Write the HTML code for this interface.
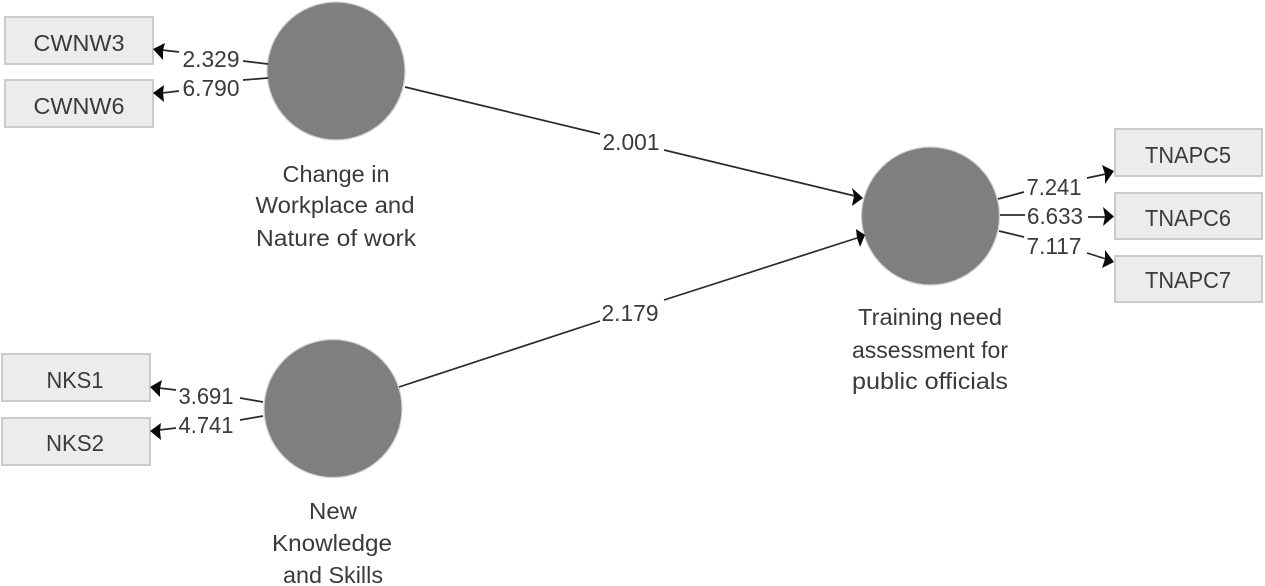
<!DOCTYPE html>
<html><head><meta charset="utf-8"><style>
html,body{margin:0;padding:0;background:#fff;width:1265px;height:586px;overflow:hidden}
svg{display:block;filter:blur(0.35px)}
text{font-family:"Liberation Sans",sans-serif;font-size:23px;fill:#3a3a3a;text-anchor:middle}
.b{fill:#ececec;stroke:#cbcbcb;stroke-width:2}
.c{fill:#7f7f7f;stroke:#d2d2d2;stroke-width:1.2}
.l{stroke:#2a2a2a;stroke-width:1.7;fill:none}
.a{fill:#0a0a0a}
</style></head><body>
<svg width="1265" height="586" viewBox="0 0 1265 586" xmlns="http://www.w3.org/2000/svg">
<rect class="b" x="5" y="17" width="148" height="47"/>
<rect class="b" x="5" y="80" width="148" height="47"/>
<rect class="b" x="2" y="354" width="148" height="47"/>
<rect class="b" x="2" y="418" width="148" height="47"/>
<rect class="b" x="1115" y="129" width="147" height="47"/>
<rect class="b" x="1115" y="193" width="147" height="46"/>
<rect class="b" x="1115" y="256" width="147" height="46"/>

<circle class="c" cx="336" cy="71" r="69"/>
<circle class="c" cx="333" cy="408.5" r="69"/>
<circle class="c" cx="930.5" cy="216" r="69"/>

<!-- structural paths -->
<line class="l" x1="405" y1="87" x2="600" y2="134"/>
<line class="l" x1="664" y1="150" x2="855" y2="196"/>
<polygon class="a" points="863,198 852,206 854,196 852,188"/>
<line class="l" x1="399" y1="387" x2="600" y2="321"/>
<line class="l" x1="664" y1="300" x2="857" y2="238"/>
<polygon class="a" points="865,235 860,247 857,238 856,229"/>

<!-- CWNW -->
<line class="l" x1="243" y1="61" x2="268" y2="64"/>
<line class="l" x1="243" y1="80" x2="268" y2="78"/>
<line class="l" x1="162" y1="50" x2="179" y2="52"/>
<polygon class="a" points="153,49 165,43 163,50 163,60"/>
<line class="l" x1="162" y1="93" x2="179" y2="91"/>
<polygon class="a" points="153,93 164,85 163,93 164,102"/>

<!-- NKS -->
<line class="l" x1="240" y1="398" x2="263" y2="402"/>
<line class="l" x1="240" y1="420" x2="263" y2="416"/>
<line class="l" x1="159" y1="388" x2="176" y2="390"/>
<polygon class="a" points="150,387 162,380 160,388 160,397"/>
<line class="l" x1="159" y1="430" x2="176" y2="428"/>
<polygon class="a" points="150,431 161,423 160,431 161,440"/>

<!-- TNAPC -->
<line class="l" x1="998" y1="199" x2="1024" y2="192"/>
<line class="l" x1="1087" y1="178" x2="1106" y2="174"/>
<polygon class="a" points="1114,171 1105,184 1105,174 1102,165"/>
<line class="l" x1="1000" y1="215" x2="1025" y2="215"/>
<line class="l" x1="1088" y1="217" x2="1106" y2="217"/>
<polygon class="a" points="1114,216.5 1103,226 1105,216.5 1103,207"/>
<line class="l" x1="999" y1="231" x2="1024" y2="237"/>
<line class="l" x1="1087" y1="253" x2="1106" y2="259"/>
<polygon class="a" points="1114,262 1102,268 1105,259 1105,250"/>

<!-- indicator labels -->
<text x="79" y="51" textLength="91" lengthAdjust="spacingAndGlyphs">CWNW3</text>
<text x="79" y="114" textLength="91" lengthAdjust="spacingAndGlyphs">CWNW6</text>
<text x="75" y="388" textLength="57" lengthAdjust="spacingAndGlyphs">NKS1</text>
<text x="75" y="451" textLength="58" lengthAdjust="spacingAndGlyphs">NKS2</text>
<text x="1188" y="163" textLength="86" lengthAdjust="spacingAndGlyphs">TNAPC5</text>
<text x="1188" y="226" textLength="86" lengthAdjust="spacingAndGlyphs">TNAPC6</text>
<text x="1188" y="288" textLength="86" lengthAdjust="spacingAndGlyphs">TNAPC7</text>

<!-- path values -->
<text x="211" y="67" textLength="57" lengthAdjust="spacingAndGlyphs">2.329</text>
<text x="211" y="96" textLength="57" lengthAdjust="spacingAndGlyphs">6.790</text>
<text x="206" y="404" textLength="55" lengthAdjust="spacingAndGlyphs">3.691</text>
<text x="206" y="433" textLength="55" lengthAdjust="spacingAndGlyphs">4.741</text>
<text x="1054" y="195" textLength="55" lengthAdjust="spacingAndGlyphs">7.241</text>
<text x="1055" y="224" textLength="56" lengthAdjust="spacingAndGlyphs">6.633</text>
<text x="1054" y="254" textLength="55" lengthAdjust="spacingAndGlyphs">7.117</text>
<text x="631" y="150" textLength="57" lengthAdjust="spacingAndGlyphs">2.001</text>
<text x="630" y="321" textLength="57" lengthAdjust="spacingAndGlyphs">2.179</text>

<!-- construct labels -->
<text x="336" y="182" textLength="107" lengthAdjust="spacingAndGlyphs">Change in</text>
<text x="335" y="213" textLength="159" lengthAdjust="spacingAndGlyphs">Workplace and</text>
<text x="336" y="246" textLength="160" lengthAdjust="spacingAndGlyphs">Nature of work</text>
<text x="333" y="519" textLength="48" lengthAdjust="spacingAndGlyphs">New</text>
<text x="332" y="551" textLength="120" lengthAdjust="spacingAndGlyphs">Knowledge</text>
<text x="333" y="583" textLength="100" lengthAdjust="spacingAndGlyphs">and Skills</text>
<text x="930" y="325" textLength="144" lengthAdjust="spacingAndGlyphs">Training need</text>
<text x="930" y="358" textLength="156" lengthAdjust="spacingAndGlyphs">assessment for</text>
<text x="930" y="389" textLength="156" lengthAdjust="spacingAndGlyphs">public officials</text>
</svg>
</body></html>
